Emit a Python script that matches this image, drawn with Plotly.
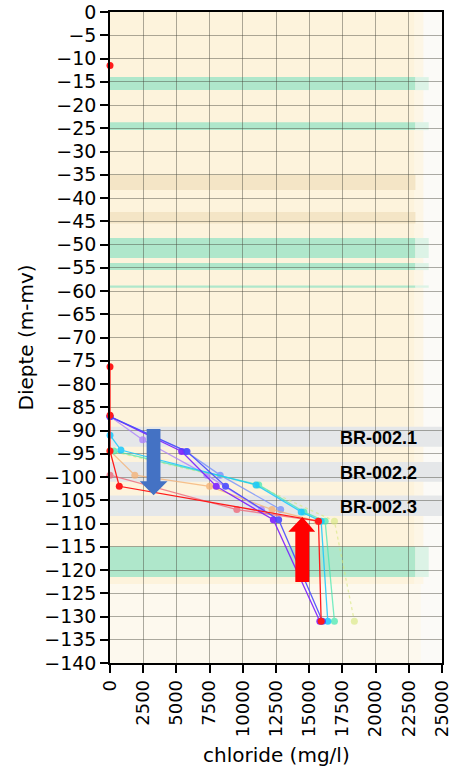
import plotly.graph_objects as go

# ---------------- data ----------------
s_violet_depth = [-87, -94.5, -102, -109.2, -131]
s_violet_cl = [0, 5400, 8000, 12300, 15800]
s_blue_depth = [-87, -94.5, -102, -109.2, -131]
s_blue_cl = [0, 5800, 8700, 12700, 16000]
s_lviolet_depth = [-87, -92, -99.6, -107]
s_lviolet_cl = [0, 2460, 7300, 11400]
s_lblue_depth = [-87, -94.5, -99.6, -107]
s_lblue_cl = [0, 5700, 8300, 12850]
s_cyan_depth = [-91, -94.2, -101.7, -107.5, -109.5, -131]
s_cyan_cl = [0, 820, 11000, 14400, 15900, 16400]
s_teal_depth = [-94.4, -101.7, -107.5, -109.5, -131]
s_teal_cl = [300, 11200, 14600, 16200, 16900]
s_ygreen_depth = [-94.4, -101.7, -109.5, -131]
s_ygreen_cl = [0, 11000, 16900, 18400]
s_orange_depth = [-94.4, -99.6, -102, -107, -109.5]
s_orange_cl = [0, 1870, 7500, 12200, 15600]
s_pink_depth = [-99.6, -107, -109.5]
s_pink_cl = [0, 9550, 15700]
s_red_depth = [-11.5, None, -76.3, -86.7, -94.4, -102, -109.5, -131]
s_red_cl = [0, None, 0, 0, 0, 700, 15700, 15900]

series = [
    ("lviolet", s_lviolet_cl, s_lviolet_depth, "#a97bff", 0.75, "solid"),
    ("lblue", s_lblue_cl, s_lblue_depth, "#6f8cff", 0.75, "solid"),
    ("ygreen", s_ygreen_cl, s_ygreen_depth, "#d6e87a", 0.6, "dot"),
    ("orange", s_orange_cl, s_orange_depth, "#f5b070", 0.75, "solid"),
    ("teal", s_teal_cl, s_teal_depth, "#3ee8b0", 0.7, "solid"),
    ("cyan", s_cyan_cl, s_cyan_depth, "#18c8ff", 0.85, "solid"),
    ("pink", s_pink_cl, s_pink_depth, "#ee6a7a", 0.8, "solid"),
    ("violet", s_violet_cl, s_violet_depth, "#7b1fff", 0.9, "solid"),
    ("blue", s_blue_cl, s_blue_depth, "#4a4aff", 0.9, "solid"),
    ("red", s_red_cl, s_red_depth, "#ff1a1a", 1.0, "solid"),
]

green_bands = [(-16.8, -14), (-25.4, -23.7), (-52.9, -48.6), (-55.5, -54), (-59.3, -58.8), (-121.5, -115)]
tan_bands = [(-38.3, -35), (-45.5, -43)]
filter_bands = [(-93.5, -89.2), (-101, -96.8), (-108.4, -104)]
filter_labels = ["BR-002.1", "BR-002.2", "BR-002.3"]
filter_label_depth = [-91.6, -99.1, -106.5]

x_ticks = list(range(0, 25001, 2500))
y_ticks = list(range(-140, 1, 5))

fig = go.Figure()

for name, xs, ys, col, op, dash in series:
    fig.add_trace(go.Scatter(
        x=xs, y=ys, mode="lines+markers", name=name,
        line=dict(color=col, width=1.3, dash=dash),
        marker=dict(color=col, size=7),
        opacity=op, connectgaps=False, cliponaxis=False, showlegend=False,
    ))

shapes = []
# background
shapes.append(dict(type="rect", xref="x", yref="y", x0=0, x1=25000, y0=-140, y1=0,
                   fillcolor="#fbfaf7", line_width=0, layer="below"))
shapes.append(dict(type="rect", xref="x", yref="y", x0=0, x1=23600, y0=-123, y1=0,
                   fillcolor="#fdf6e6", line_width=0, layer="below"))
shapes.append(dict(type="rect", xref="x", yref="y", x0=0, x1=22900, y0=-123, y1=0,
                   fillcolor="#fdf3dc", line_width=0, layer="below"))
shapes.append(dict(type="rect", xref="x", yref="y", x0=0, x1=23400, y0=-140, y1=-123,
                   fillcolor="#fdf9ee", line_width=0, layer="below"))
for y0, y1 in tan_bands:
    shapes.append(dict(type="rect", xref="x", yref="y", x0=0, x1=23000, y0=y0, y1=y1,
                       fillcolor="#f4e5c6", line_width=0, layer="below"))
for y0, y1 in green_bands:
    shapes.append(dict(type="rect", xref="x", yref="y", x0=0, x1=23000, y0=y0, y1=y1,
                       fillcolor="#afe7cb", line_width=0, layer="below"))
    shapes.append(dict(type="rect", xref="x", yref="y", x0=23000, x1=24000, y0=y0, y1=y1,
                       fillcolor="#dcf3e6", line_width=0, layer="below"))
for y0, y1 in filter_bands:
    shapes.append(dict(type="rect", xref="x", yref="y", x0=0, x1=25000, y0=y0, y1=y1,
                       fillcolor="#e5e7e9", line_width=0, layer="below"))

# arrows (blue down, red up)
blue_arrow = ("M 2760 -89.7 L 3800 -89.7 L 3800 -100.9 L 4330 -100.9 L 3285 -103.9 "
              "L 2240 -100.9 L 2760 -100.9 Z")
red_arrow = ("M 13955 -122.6 L 15000 -122.6 L 15000 -111.8 L 15450 -111.8 L 14480 -108.6 "
             "L 13430 -111.8 L 13955 -111.8 Z")
shapes.append(dict(type="path", xref="x", yref="y", path=blue_arrow,
                   fillcolor="#4472c4", line_width=0, layer="above"))
shapes.append(dict(type="path", xref="x", yref="y", path=red_arrow,
                   fillcolor="#ff0000", line_width=0, layer="above"))

annotations = []
for lab, yd in zip(filter_labels, filter_label_depth):
    annotations.append(dict(x=23300, y=yd, xref="x", yref="y", text="<b>" + lab + "</b>",
                            showarrow=False, xanchor="right", yanchor="middle",
                            font=dict(family="Liberation Sans, Arial", size=18, color="black")))
annotations.append(dict(x=0.5, y=0, xref="paper", yref="paper", yshift=-92,
                        text="chloride (mg/l)", showarrow=False, xanchor="center",
                        yanchor="middle", font=dict(family="DejaVu Sans", size=20, color="black")))
annotations.append(dict(x=0, y=0.5, xref="paper", yref="paper", xshift=-85,
                        text="Diepte (m-mv)", showarrow=False, textangle=-90,
                        xanchor="center", yanchor="middle",
                        font=dict(family="DejaVu Sans", size=20, color="black")))

fig.update_layout(
    width=452, height=770,
    margin=dict(l=110, r=10, t=12, b=107, autoexpand=False),
    paper_bgcolor="white", plot_bgcolor="white",
    shapes=shapes, annotations=annotations,
    font=dict(family="DejaVu Sans", size=19, color="black"),
    xaxis=dict(range=[0, 25000], tickvals=x_ticks, ticktext=[str(v) for v in x_ticks],
               tickangle=-90, ticks="outside", ticklen=8, tickwidth=1.5, tickcolor="black",
               ticklabeloverflow="allow", tickfont=dict(size=18),
               showline=True, linecolor="black", linewidth=1.5, mirror=True,
               showgrid=True, gridcolor="rgba(70,70,60,0.45)", gridwidth=1,
               zeroline=False, fixedrange=True),
    yaxis=dict(range=[-140, 0], tickvals=y_ticks,
               ticktext=[("\u2212" + str(-v)) if v < 0 else str(v) for v in y_ticks],
               ticks="outside", ticklen=8, tickwidth=1.5, tickcolor="black",
               ticklabeloverflow="allow",
               showline=True, linecolor="black", linewidth=1.5, mirror=True,
               showgrid=True, gridcolor="rgba(70,70,60,0.45)", gridwidth=1,
               zeroline=False, fixedrange=True),
)

fig.write_html("out.html")
